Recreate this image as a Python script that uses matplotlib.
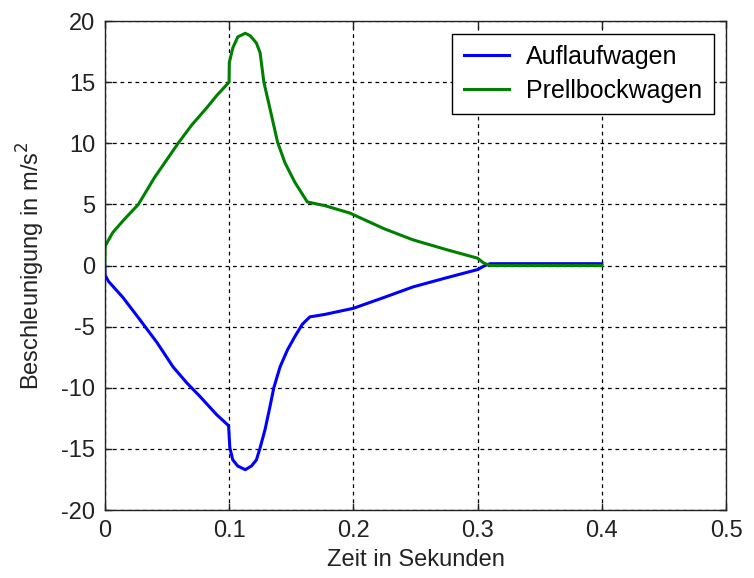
import matplotlib
matplotlib.use('Agg')
import matplotlib.pyplot as plt

# Data
t_auf = [0, 0.0003, 0.003, 0.0145, 0.028, 0.042, 0.055, 0.066, 0.0765, 0.090, 0.0996,
         0.1006, 0.103, 0.107, 0.113, 0.118, 0.122, 0.125, 0.129, 0.133, 0.136,
         0.141, 0.147, 0.153, 0.159, 0.165, 0.177, 0.2, 0.225, 0.248, 0.275, 0.3,
         0.305, 0.31, 0.4]
a_auf = [0, -0.8, -1.3, -2.6, -4.4, -6.3, -8.3, -9.6, -10.7, -12.2, -13.1,
         -14.9, -15.9, -16.4, -16.7, -16.4, -15.9, -14.9, -13.4, -11.5, -10.0,
         -8.3, -6.9, -5.8, -4.8, -4.2, -4.0, -3.5, -2.6, -1.75, -1.0, -0.33,
         -0.05, 0.15, 0.15]

t_prell = [0, 0.0003, 0.0064, 0.015, 0.027, 0.04, 0.059, 0.07, 0.082, 0.09, 0.1,
           0.1002, 0.103, 0.107, 0.113, 0.117, 0.122, 0.125, 0.128, 0.133,
           0.139, 0.145, 0.153, 0.163, 0.177, 0.197, 0.225, 0.248, 0.275, 0.3,
           0.305, 0.31, 0.4]
a_prell = [0, 1.6, 2.7, 3.7, 5.0, 7.2, 10.0, 11.5, 12.9, 13.9, 15.0,
           16.6, 17.8, 18.7, 19.0, 18.8, 18.2, 17.4, 15.0, 12.8,
           10.1, 8.4, 6.8, 5.2, 4.9, 4.3, 3.0, 2.1, 1.3, 0.6,
           0.2, 0.0, 0.0]

plt.rcParams['font.family'] = ['Liberation Sans', 'DejaVu Sans']
plt.rcParams['axes.unicode_minus'] = False

fig = plt.figure(figsize=(7.54, 5.78), dpi=100)
ax = fig.add_axes([0.139, 0.1176, 0.824, 0.846])

ax.plot(t_auf, a_auf, color=(0, 0, 1), lw=2.2, label='Auflaufwagen')
ax.plot(t_prell, a_prell, color=(0, 0.5, 0), lw=2.2, label='Prellbockwagen')

ax.set_xlim(0, 0.5)
ax.set_ylim(-20, 20)
ax.set_xticks([0, 0.1, 0.2, 0.3, 0.4, 0.5])
ax.set_xticklabels(['0', '0.1', '0.2', '0.3', '0.4', '0.5'])
ax.set_yticks(range(-20, 21, 5))
ax.tick_params(direction='in', top=True, right=True, length=5, width=1,
               labelsize=17, colors='#222222', labelcolor='#222222')
ax.tick_params(axis='x', pad=7)
ax.tick_params(axis='y', pad=7)
ax.grid(True, color='black', linestyle=(0, (3, 3)), linewidth=0.9)
for s in ax.spines.values():
    s.set_linewidth(1.0)
    s.set_color('#222222')

ax.set_xlabel('Zeit in Sekunden', fontsize=17, labelpad=5, color='#222222')
ax.set_ylabel('Beschleunigung in m/s$^2$', fontsize=17, labelpad=10, color='#222222')

leg = ax.legend(loc='upper right', fontsize=18, frameon=True, fancybox=False,
                edgecolor='black', framealpha=1, handlelength=1.8,
                handletextpad=0.7, borderaxespad=0.5, labelspacing=0.4,
                borderpad=0.45)
leg.get_frame().set_linewidth(1.0)
for ln in leg.get_lines():
    ln.set_linewidth(2.2)

fig.savefig('out.png', dpi=100)
